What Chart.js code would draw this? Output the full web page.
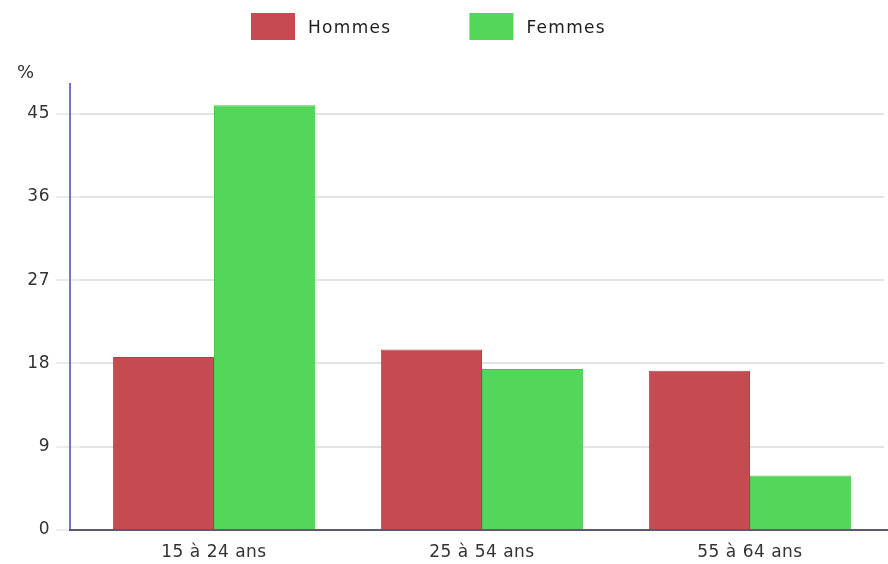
<!DOCTYPE html>
<html lang="fr">
<head>
<meta charset="utf-8">
<script src="https://cdn.jsdelivr.net/npm/chart.js@4.4.1/dist/chart.umd.min.js"></script>
<style>
  html, body { margin: 0; padding: 0; background: #ffffff; }
  #wrap { width: 888px; height: 564px; position: relative; }
</style>
</head>
<body>
<div id="wrap"><canvas id="c" width="888" height="564"></canvas></div>
<script>
// Tranches d'âge et taux (%) par sexe
const categories = ['15 à 24 ans', '25 à 54 ans', '55 à 64 ans'];
const hommes = [18.7, 19.5, 17.2];
const femmes = [45.9, 17.4, 5.9];
const seriesNames = ['Hommes', 'Femmes'];
const yTicks = [0, 9, 18, 27, 36, 45];
const yUnit = '%';

const FONT = 'DejaVu Sans';
const colors = {
  hommes: { fill: '#c64b50', border: '#b2424a' },
  femmes: { fill: '#54d65b', border: '#46c74d' }
};

// Slightly spaced lettering for the axis labels
const spacing = {
  id: 'spacing',
  beforeLayout(chart) { chart.ctx.letterSpacing = '0.5px'; },
  beforeDraw(chart) { chart.ctx.letterSpacing = '0.5px'; }
};

// Axis lines, unit label and legend drawn on top of the chart
const decorations = {
  id: 'decorations',
  afterDraw(chart) {
    const { ctx, chartArea, scales } = chart;
    const axisX = chartArea.left - 10;
    const y0 = scales.y.getPixelForValue(0);
    ctx.save();
    // vertical axis
    ctx.strokeStyle = '#7474cc';
    ctx.lineWidth = 2;
    ctx.beginPath();
    ctx.moveTo(axisX, chartArea.top - 1);
    ctx.lineTo(axisX, y0);
    ctx.stroke();
    // horizontal axis
    ctx.strokeStyle = '#5a5a6c';
    ctx.beginPath();
    ctx.moveTo(axisX - 1, y0);
    ctx.lineTo(chart.width, y0);
    ctx.stroke();
    // unit
    ctx.fillStyle = '#333333';
    ctx.letterSpacing = '0px';
    ctx.font = '18px "' + FONT + '"';
    ctx.textAlign = 'left';
    ctx.textBaseline = 'alphabetic';
    ctx.fillText(yUnit, 17, 78);
    // legend
    ctx.font = '17px "' + FONT + '"';
    ctx.letterSpacing = '1.3px';
    ctx.textBaseline = 'middle';
    let x = 251;
    chart.data.datasets.forEach((ds) => {
      ctx.fillStyle = ds.backgroundColor;
      ctx.fillRect(x, 13, 44, 27);
      ctx.fillStyle = '#1e1e1e';
      ctx.fillText(ds.label, x + 57, 29);
      x += 57 + ctx.measureText(ds.label).width + 78;
    });
    ctx.restore();
  }
};

new Chart(document.getElementById('c'), {
  type: 'bar',
  data: {
    labels: categories,
    datasets: [
      {
        label: seriesNames[0],
        data: hommes,
        backgroundColor: colors.hommes.fill,
        borderColor: colors.hommes.border,
        borderWidth: 1
      },
      {
        label: seriesNames[1],
        data: femmes,
        backgroundColor: colors.femmes.fill,
        borderColor: colors.femmes.border,
        borderWidth: 1
      }
    ]
  },
  options: {
    responsive: false,
    animation: false,
    layout: { padding: { top: 84, right: 4, left: 0, bottom: 0 } },
    datasets: { bar: { categoryPercentage: 0.755, barPercentage: 1.0 } },
    plugins: {
      legend: { display: false },
      tooltip: { enabled: false }
    },
    scales: {
      x: {
        grid: { display: false },
        border: { display: false },
        ticks: {
          color: '#333333',
          font: { family: FONT, size: 17 },
          padding: 4
        },
        afterFit(scale) { scale.height = 34; }
      },
      y: {
        min: 0,
        max: 48.2,
        afterBuildTicks(scale) {
          scale.ticks = yTicks.map(v => ({ value: v }));
        },
        grid: {
          color: '#e3e3e3',
          lineWidth: 2,
          tickLength: 24,
          tickColor: '#ececec'
        },
        border: { display: false },
        ticks: {
          color: '#333333',
          font: { family: FONT, size: 17 },
          padding: 6
        },
        afterFit(scale) { scale.width = 80; }
      }
    }
  },
  plugins: [spacing, decorations]
});
</script>
</body>
</html>
